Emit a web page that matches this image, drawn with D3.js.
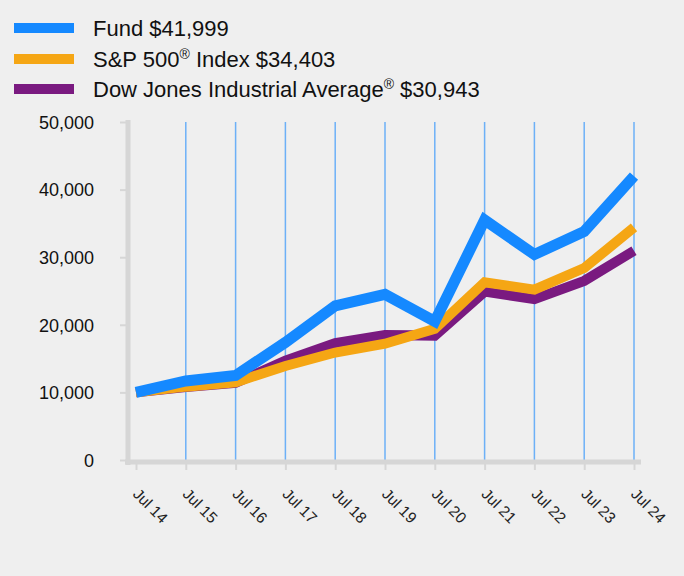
<!DOCTYPE html>
<html><head><meta charset="utf-8">
<script src="https://cdn.jsdelivr.net/npm/d3@7"></script>
<style>html,body{margin:0;padding:0;background:#efefef;}svg{display:block;}</style>
</head><body>
<div id="chart"></div>
<script>
const categories = ["Jul 14","Jul 15","Jul 16","Jul 17","Jul 18","Jul 19","Jul 20","Jul 21","Jul 22","Jul 23","Jul 24"];
const fundValues = [10000,11700,12500,17400,22800,24500,20500,35500,30400,33800,41999];
const spValues   = [10000,10850,11500,13900,15900,17200,19400,26300,25200,28400,34403];
const dowValues  = [10000,10800,11400,14700,17300,18500,18400,24900,23800,26500,30943];
const yTicks = [0,10000,20000,30000,40000,50000];
const seriesNames = ["Fund $41,999","S&P 500® Index $34,403","Dow Jones Industrial Average® $30,943"];
const seriesColors = ["#1589ff","#f5a614","#7a1a80"];

const W = 684, H = 576;
const svg = d3.select("#chart").append("svg").attr("width", W).attr("height", H)
  .style("font-family", "Arial, 'Liberation Sans', sans-serif");
svg.append("rect").attr("width", W).attr("height", H).attr("fill", "#efefef");

const x = d3.scalePoint().domain(categories).range([136, 634]);
const y = d3.scaleLinear().domain([0, 50000]).range([460, 122]);

// gridlines
svg.append("g").selectAll("line").data(categories.slice(1)).join("line")
  .attr("x1", d => x(d)).attr("x2", d => x(d)).attr("y1", y(50000)).attr("y2", y(0))
  .attr("stroke", "#6cb0f7").attr("stroke-width", 1.5);

// y axis
const yAxis = svg.append("g").attr("transform", "translate(128,0)")
  .call(d3.axisLeft(y).tickValues(yTicks).tickFormat(d3.format(",")).tickSize(6).tickPadding(26));
yAxis.select(".domain").remove();
yAxis.selectAll(".tick line").attr("stroke", "#d6d6d6").attr("stroke-width", 2).attr("x1", -8).attr("x2", -2);
yAxis.selectAll("text").attr("fill", "#111").style("font-size", "18px").attr("x", -34).attr("dy", "0.35em");
svg.append("line").attr("x1", 128).attr("x2", 128).attr("y1", 120).attr("y2", 465)
  .attr("stroke", "#d6d6d6").attr("stroke-width", 5);

// x axis
const xAxis = svg.append("g").attr("transform", "translate(0,462)")
  .call(d3.axisBottom(x).tickSize(8).tickFormat(""));
xAxis.select(".domain").remove();
xAxis.selectAll(".tick line").attr("stroke", "#d6d6d6").attr("stroke-width", 2);
svg.append("line").attr("x1", 125).attr("x2", 641).attr("y1", 462).attr("y2", 462)
  .attr("stroke", "#d6d6d6").attr("stroke-width", 5);
svg.append("g").selectAll("text").data(categories).join("text")
  .attr("transform", d => `translate(${x(d) - 4},${495}) rotate(45)`)
  .attr("text-anchor", "start").attr("fill", "#222").style("font-size", "15.5px")
  .text(d => d);

// lines
const line = d3.line().x((d, i) => x(categories[i])).y(d => y(d));
const data = [dowValues, spValues, fundValues];
const cols = [seriesColors[2], seriesColors[1], seriesColors[0]];
const widths = [10, 10, 11];
svg.append("g").selectAll("path").data(data).join("path")
  .attr("d", line).attr("fill", "none")
  .attr("stroke", (d, i) => cols[i]).attr("stroke-width", (d, i) => widths[i])
  .attr("stroke-linejoin", "miter");

// legend
const legY = [28, 59, 89];
const leg = svg.append("g").selectAll("g").data(seriesNames).join("g")
  .attr("transform", (d, i) => `translate(0,${legY[i]})`);
leg.append("line").attr("x1", 14).attr("x2", 74).attr("y1", 0).attr("y2", 0)
  .attr("stroke", (d, i) => seriesColors[i]).attr("stroke-width", 10);
leg.append("text").attr("x", 93).attr("y", 0).attr("dy", "0.35em")
  .attr("fill", "#111").style("font-size", "22px")
  .each(function(d) {
    const t = d3.select(this);
    const parts = d.split("®");
    parts.forEach((p, i) => {
      t.append("tspan").text(p);
      if (i < parts.length - 1) {
        t.append("tspan").text("®").attr("baseline-shift", "super").style("font-size", "14px");
      }
    });
  });
</script>
</body></html>
